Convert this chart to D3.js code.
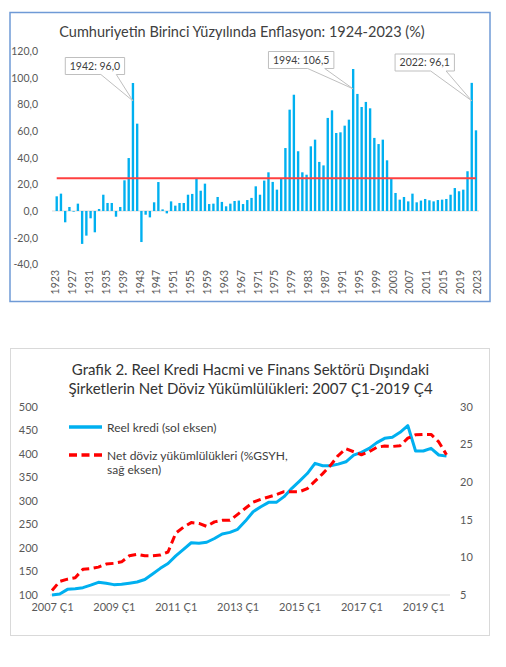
<!DOCTYPE html>
<html>
<head>
<meta charset="utf-8">
<script src="https://cdn.jsdelivr.net/npm/d3@7"></script>
<style>
  body { margin: 0; background: #fff; }
  svg { display: block; font-family: Lato, "Open Sans", sans-serif; }
</style>
</head>
<body>
<svg id="chart" width="506" height="667"></svg>
<script>
// ---- top chart data: yearly inflation (%), 1924-2023 ----
var firstYear = 1924;
var inflation = [
  11, 13, -8.5, 3, -0.5, 5.5, -24.7, -18.5, -5.5, -16,          // 1924-1933
  1.5, 12.2, 6, 6, -4.3, 3, 23, 39.7, 96.0, 65.5,               // 1934-1943
  -23.3, -2.8, -4.8, 6.5, 21.7, 1.2, -1.8, 7.2, 4, 6,           // 1944-1953
  6, 12.2, 12.8, 24, 15.2, 20.5, 5.2, 5.5, 10.5, 6.8,           // 1954-1963
  3.5, 5.5, 7.5, 7.8, 5.2, 8.2, 9.8, 18.5, 12.2, 22.8,          // 1964-1973
  29, 21.8, 16, 24, 47.2, 76, 87.2, 44.8, 29, 27.2,             // 1974-1983
  48.5, 53.5, 36.8, 34.2, 69.8, 75.5, 58.5, 59, 64, 68.5,       // 1984-1993
  106.5, 87.8, 78, 81.8, 77, 54.8, 50.2, 53.5, 38, 24,          // 1994-2003
  13.5, 8.5, 10.5, 7.2, 13, 6.5, 7.8, 9, 8, 7.2,                // 2004-2013
  8.2, 8.5, 9, 12.2, 17.2, 14.8, 16, 29.8, 96.1, 60.5           // 2014-2023
];
var years = inflation.map(function(d, i) { return firstYear + i; });
var avgInflation = 24.5;
var calloutYears = [1942, 1994, 2022];
var topYTicks = [-40, -20, 0, 20, 40, 60, 80, 100, 120];
var topXTicks = [1923, 1927, 1931, 1935, 1939, 1943, 1947, 1951, 1955, 1959, 1963,
  1967, 1971, 1975, 1979, 1983, 1987, 1991, 1995, 1999, 2003, 2007, 2011, 2015, 2019, 2023];

// ---- bottom chart data: quarterly, 2007 Q1 - 2019 Q4 ----
var realCredit = [
  100, 102, 112, 113.5, 115.6, 121, 127, 125, 122, 122.7, 125, 127.6, 133,
  144.6, 156.6, 167, 183, 197, 211, 209.7, 212, 220, 229.6, 233, 239.5, 257,
  277, 287.6, 296.8, 296.8, 308.9, 326.6, 342, 358, 379.7, 374.6, 374.6, 378,
  383, 397, 403, 411.5, 423.6, 432.8, 434.9, 445.5, 459.7, 405.9, 405.9, 411.5,
  397.4, 395
];
var netFxLiab = [
  5.6, 6.8, 7.1, 7.3, 8.4, 8.5, 8.7, 9.1, 9.2, 9.4, 10.2, 10.4, 10.2,
  10.2, 10.3, 10.7, 13.2, 14.0, 14.6, 14.5, 14.1, 14.7, 14.9, 14.9, 15.7, 16.5,
  17.3, 17.7, 18.0, 18.3, 18.7, 18.7, 18.7, 19.1, 20.1, 21.1, 22.2, 23.5,
  24.4, 24.0, 23.6, 24.0, 24.6, 24.75, 24.7, 24.8, 25.8, 26.25, 26.3, 26.3,
  25.3, 23.6
];
var quarters = [];
for (var yr = 2007; yr <= 2019; yr++) {
  for (var q = 1; q <= 4; q++) quarters.push(yr + " Ç" + q);
}
var leftTicks = [100, 150, 200, 250, 300, 350, 400, 450, 500];
var rightTicks = [5, 10, 15, 20, 25, 30];
var quarterTicks = ["2007 Ç1", "2009 Ç1", "2011 Ç1", "2013 Ç1", "2015 Ç1", "2017 Ç1", "2019 Ç1"];

var trLocale = d3.formatLocale({decimal: ",", thousands: ".", grouping: [3], currency: ["", ""], minus: "-"});
var fmt1 = trLocale.format(".1f");

var svg = d3.select("#chart");

// ================= top chart =================
var topG = svg.append("g");

topG.append("rect")
  .attr("x", 10).attr("y", 12.5)
  .attr("width", 480).attr("height", 289)
  .attr("fill", "#fff")
  .attr("stroke", "#6f9ad6")
  .attr("stroke-width", 1.5);

topG.append("text")
  .attr("x", 242).attr("y", 36.5)
  .attr("text-anchor", "middle")
  .attr("font-size", "14.5px")
  .attr("fill", "#404040")
  .text("Cumhuriyetin Birinci Yüzyılında Enflasyon: 1924-2023 (%)");

var xBar = d3.scaleBand()
  .domain(years)
  .range([54.6, 478.1])
  .paddingInner(0.44)
  .paddingOuter(0.22);

var yBar = d3.scaleLinear()
  .domain([-40, 120])
  .range([264.3, 51]);

// label axis runs 1923..2023 across the bar span
var xYear = d3.scaleLinear()
  .domain([1923, 2023])
  .range([55, 476.7]);

function barCenter(y) { return xBar(y) + xBar.bandwidth() / 2; }

// y axis labels
var yAxisTop = topG.append("g")
  .attr("transform", "translate(38,0)")
  .call(d3.axisLeft(yBar).tickValues(topYTicks).tickSize(0).tickPadding(0).tickFormat(fmt1));
yAxisTop.select(".domain").remove();
yAxisTop.selectAll("text")
  .attr("font-family", "Lato, sans-serif")
  .attr("font-size", "10.5px")
  .attr("fill", "#595959");

// zero line
topG.append("line")
  .attr("x1", 52).attr("x2", 479)
  .attr("y1", yBar(0)).attr("y2", yBar(0))
  .attr("stroke", "#d9d9d9")
  .attr("stroke-width", 1);

// bars
topG.selectAll(".bar")
  .data(inflation)
  .enter()
  .append("rect")
  .attr("class", "bar")
  .attr("x", (d, i) => xBar(years[i]))
  .attr("width", xBar.bandwidth())
  .attr("y", d => yBar(Math.max(0, d)))
  .attr("height", d => Math.abs(yBar(d) - yBar(0)))
  .attr("fill", "#00b0f0");

// average line
topG.append("line")
  .attr("x1", barCenter(years[0]))
  .attr("x2", barCenter(years[years.length - 1]))
  .attr("y1", yBar(avgInflation))
  .attr("y2", yBar(avgInflation))
  .attr("stroke", "#ff4040")
  .attr("stroke-width", 2);

// x axis labels (rotated)
var xAxisTop = topG.append("g")
  .attr("transform", "translate(0,270)")
  .call(d3.axisBottom(xYear).tickValues(topXTicks).tickSize(0).tickFormat(d3.format("d")));
xAxisTop.select(".domain").remove();
xAxisTop.selectAll("text")
  .attr("transform", "rotate(-90)")
  .attr("x", 0).attr("y", 0)
  .attr("dy", "0.35em")
  .attr("text-anchor", "end")
  .attr("font-family", "Lato, sans-serif")
  .attr("font-size", "10.5px")
  .attr("fill", "#595959");

// callouts
var calloutLayout = [{dx: -38, top: 57.5}, {dx: -52, top: 51.5}, {dx: -47, top: 54}];
calloutYears.forEach(function(yr, k) {
  var v = inflation[years.indexOf(yr)];
  var tipX = barCenter(yr);
  var tipY = yBar(v * 0.86);
  var g = topG.append("g");
  var t = g.append("text")
    .attr("font-size", "10.5px")
    .attr("fill", "#404040")
    .attr("text-anchor", "middle")
    .text(yr + ": " + fmt1(v));
  var w = t.node().getComputedTextLength() + 9;
  var h = 17;
  var cx = tipX + calloutLayout[k].dx;
  var x0 = cx - w / 2, x1 = cx + w / 2;
  var y0 = calloutLayout[k].top, y1 = y0 + h;
  var b1 = x0 + w * 0.6, b2 = x0 + w * 0.86;
  g.insert("path", "text")
    .attr("d", "M" + x0 + "," + y0 + "H" + x1 + "V" + y1 + "H" + b2 +
      "L" + tipX + "," + tipY + "L" + b1 + "," + y1 + "H" + x0 + "Z")
    .attr("fill", "#fff")
    .attr("stroke", "#bfbfbf")
    .attr("stroke-width", 1);
  t.attr("x", cx).attr("y", y0 + h / 2).attr("dy", "0.36em");
});

// ================= bottom chart =================
var botG = svg.append("g");

botG.append("rect")
  .attr("x", 10.5).attr("y", 348.5)
  .attr("width", 479).attr("height", 287)
  .attr("fill", "#fff")
  .attr("stroke", "#d9d9d9")
  .attr("stroke-width", 1);

botG.append("text")
  .attr("x", 250.5).attr("y", 375)
  .attr("text-anchor", "middle")
  .attr("font-size", "15px")
  .attr("fill", "#333")
  .text("Grafik 2. Reel Kredi Hacmi ve Finans Sektörü Dışındaki");
botG.append("text")
  .attr("x", 250.5).attr("y", 394)
  .attr("text-anchor", "middle")
  .attr("font-size", "15px")
  .attr("fill", "#333")
  .text("Şirketlerin Net Döviz Yükümlülükleri: 2007 Ç1-2019 Ç4");

var xQ = d3.scalePoint()
  .domain(quarters)
  .range([52, 446.5]);

var yLeft = d3.scaleLinear()
  .domain([100, 500])
  .range([595, 406.7]);

var yRight = d3.scaleLinear()
  .domain([5, 30])
  .range([595, 406.5]);

var leftAxis = botG.append("g")
  .attr("transform", "translate(38,0)")
  .call(d3.axisLeft(yLeft).tickValues(leftTicks).tickSize(0).tickPadding(0));
leftAxis.select(".domain").remove();

var rightAxis = botG.append("g")
  .attr("transform", "translate(460,0)")
  .call(d3.axisRight(yRight).tickValues(rightTicks).tickSize(0).tickPadding(0));
rightAxis.select(".domain").remove();

var bottomAxis = botG.append("g")
  .attr("transform", "translate(0,603)")
  .call(d3.axisBottom(xQ).tickValues(quarterTicks).tickSize(0).tickPadding(0));
bottomAxis.select(".domain").remove();

botG.selectAll(".tick text")
  .attr("font-family", "Lato, sans-serif")
  .attr("font-size", "11px")
  .attr("fill", "#595959");

// x axis line
botG.append("line")
  .attr("x1", 50).attr("x2", 450)
  .attr("y1", yLeft(100)).attr("y2", yLeft(100))
  .attr("stroke", "#d9d9d9")
  .attr("stroke-width", 1);

var creditLine = d3.line()
  .x((d, i) => xQ(quarters[i]))
  .y(d => yLeft(d));

var fxLine = d3.line()
  .x((d, i) => xQ(quarters[i]))
  .y(d => yRight(d));

botG.append("path")
  .datum(realCredit)
  .attr("d", creditLine)
  .attr("fill", "none")
  .attr("stroke", "#00b0f0")
  .attr("stroke-width", 3)
  .attr("stroke-linejoin", "round");

botG.append("path")
  .datum(netFxLiab)
  .attr("d", fxLine)
  .attr("fill", "none")
  .attr("stroke", "#ff0000")
  .attr("stroke-width", 3)
  .attr("stroke-dasharray", "8,4.5")
  .attr("stroke-linejoin", "round");

// legend
var legend = botG.append("g").attr("font-size", "12px").attr("fill", "#404040");
legend.append("line")
  .attr("x1", 69).attr("x2", 102).attr("y1", 427).attr("y2", 427)
  .attr("stroke", "#00b0f0").attr("stroke-width", 3.5);
legend.append("text").attr("x", 107).attr("y", 431.5).text("Reel kredi (sol eksen)");
legend.append("line")
  .attr("x1", 69).attr("x2", 102).attr("y1", 455).attr("y2", 455)
  .attr("stroke", "#ff0000").attr("stroke-width", 3.5)
  .attr("stroke-dasharray", "8,4.5");
legend.append("text").attr("x", 107).attr("y", 459.5).text("Net döviz yükümlülükleri (%GSYH,");
legend.append("text").attr("x", 107).attr("y", 473.5).text("sağ eksen)");
</script>
</body>
</html>
